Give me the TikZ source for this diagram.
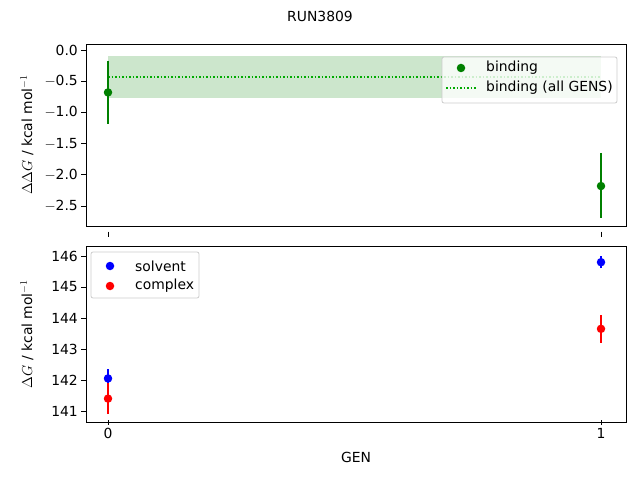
\documentclass[tikz,border=0pt]{standalone}
\usepackage{fontspec}
\setmainfont{DejaVu Sans}
\definecolor{mgreen}{RGB}{0,128,0}
\definecolor{band}{RGB}{204,230,204}
\definecolor{dotgreen}{RGB}{0,170,0}
\tikzset{
  frame/.style={draw=black, line width=0.8pt},
  tick/.style={draw=black, line width=0.8pt},
  lbl/.style={font=\fontsize{13.9}{16}\selectfont, inner sep=0pt},
  dot/.style={circle, fill=#1, inner sep=0pt, minimum size=8.5pt},
  ebar/.style={draw=#1, line width=2pt},
  legbox/.style={draw=black!20, fill=white, fill opacity=0.8, rounded corners=2pt, line width=0.8pt}
}
\begin{document}
\begin{tikzpicture}[x=1pt,y=1pt]
\useasboundingbox (0,0) rectangle (640,480);
% title
\node[lbl] (title) at (320,464) {RUN3809};
% top axes
\begin{scope}[x=493pt,y=62.4pt,shift={(108pt,430pt)}]
  \fill[band] (0,-0.1) rectangle (1,-0.77);
  \draw[dotgreen, line width=1.5pt, dotted] (0,-0.43) -- (1,-0.43);
  \draw[ebar=mgreen] (0,-0.17) -- (0,-1.19);
  \draw[ebar=mgreen] (1,-1.65) -- (1,-2.70);
  \node[dot=mgreen] (bind0) at (0,-0.68) {};
  \node[dot=mgreen] (bind1) at (1,-2.18) {};
  \foreach \v/\t in {0/0.0,-0.5/$-$0.5,-1/$-$1.0,-1.5/$-$1.5,-2/$-$2.0,-2.5/$-$2.5} {
    \draw[tick] (-0.0446,\v) -- ++(-5pt,0);
    \node[lbl, anchor=east] at ([xshift=-8pt]-0.0446,\v) {\t};
  }
  \foreach \g in {0,1} \draw[tick] (\g,-2.9103) -- ++(0,-5pt);
\end{scope}
\draw[frame] (86,254) rectangle (626,436);
\node[lbl, rotate=90] (ylabtop) at (27,345) {$\Delta\Delta G$ / kcal mol$^{-1}$};
% top legend
\draw[legbox] (442,377) rectangle (617,423);
\node[dot=mgreen] (legbind) at (461,412) {};
\node[lbl, anchor=west] at (486,412) {binding};
\draw[dotgreen, line width=1.5pt, dotted] (446,392) -- (476,392);
\node[lbl, anchor=west] at (486,392) {binding (all GENS)};
% bottom axes
\begin{scope}[x=493pt,y=31pt,shift={(108pt,-4302pt)}]
  \draw[ebar=blue] (0,141.75) -- (0,142.35);
  \draw[ebar=blue] (1,145.6) -- (1,146.0);
  \draw[ebar=red] (0,140.9) -- (0,141.9);
  \draw[ebar=red] (1,143.2) -- (1,144.1);
  \node[dot=blue] (solv0) at (0,142.05) {};
  \node[dot=blue] (solv1) at (1,145.8) {};
  \node[dot=red] (comp0) at (0,141.4) {};
  \node[dot=red] (comp1) at (1,143.65) {};
  \foreach \v in {141,...,146} {
    \draw[tick] (-0.0446,\v) -- ++(-5pt,0);
    \node[lbl, anchor=east] at ([xshift=-8pt]-0.0446,\v) {\v};
  }
  \foreach \g in {0,1} {
    \draw[tick] (\g,140.7097) -- ++(0,-5pt);
    \node[lbl, anchor=north] at ([yshift=-8pt]\g,140.7097) {\g};
  }
\end{scope}
\draw[frame] (86,58) rectangle (626,234);
\node[lbl, rotate=90] (ylabbot) at (27,146) {$\Delta G$ / kcal mol$^{-1}$};
\node[lbl] (xlab) at (356,23) {GEN};
% bottom legend
\draw[legbox] (91,182) rectangle (199,228);
\node[dot=blue] (legsolv) at (110,214) {};
\node[lbl, anchor=west] at (135,214) {solvent};
\node[dot=red] (legcomp) at (110,194) {};
\node[lbl, anchor=west] at (135,194) {complex};
\end{tikzpicture}
\end{document}
